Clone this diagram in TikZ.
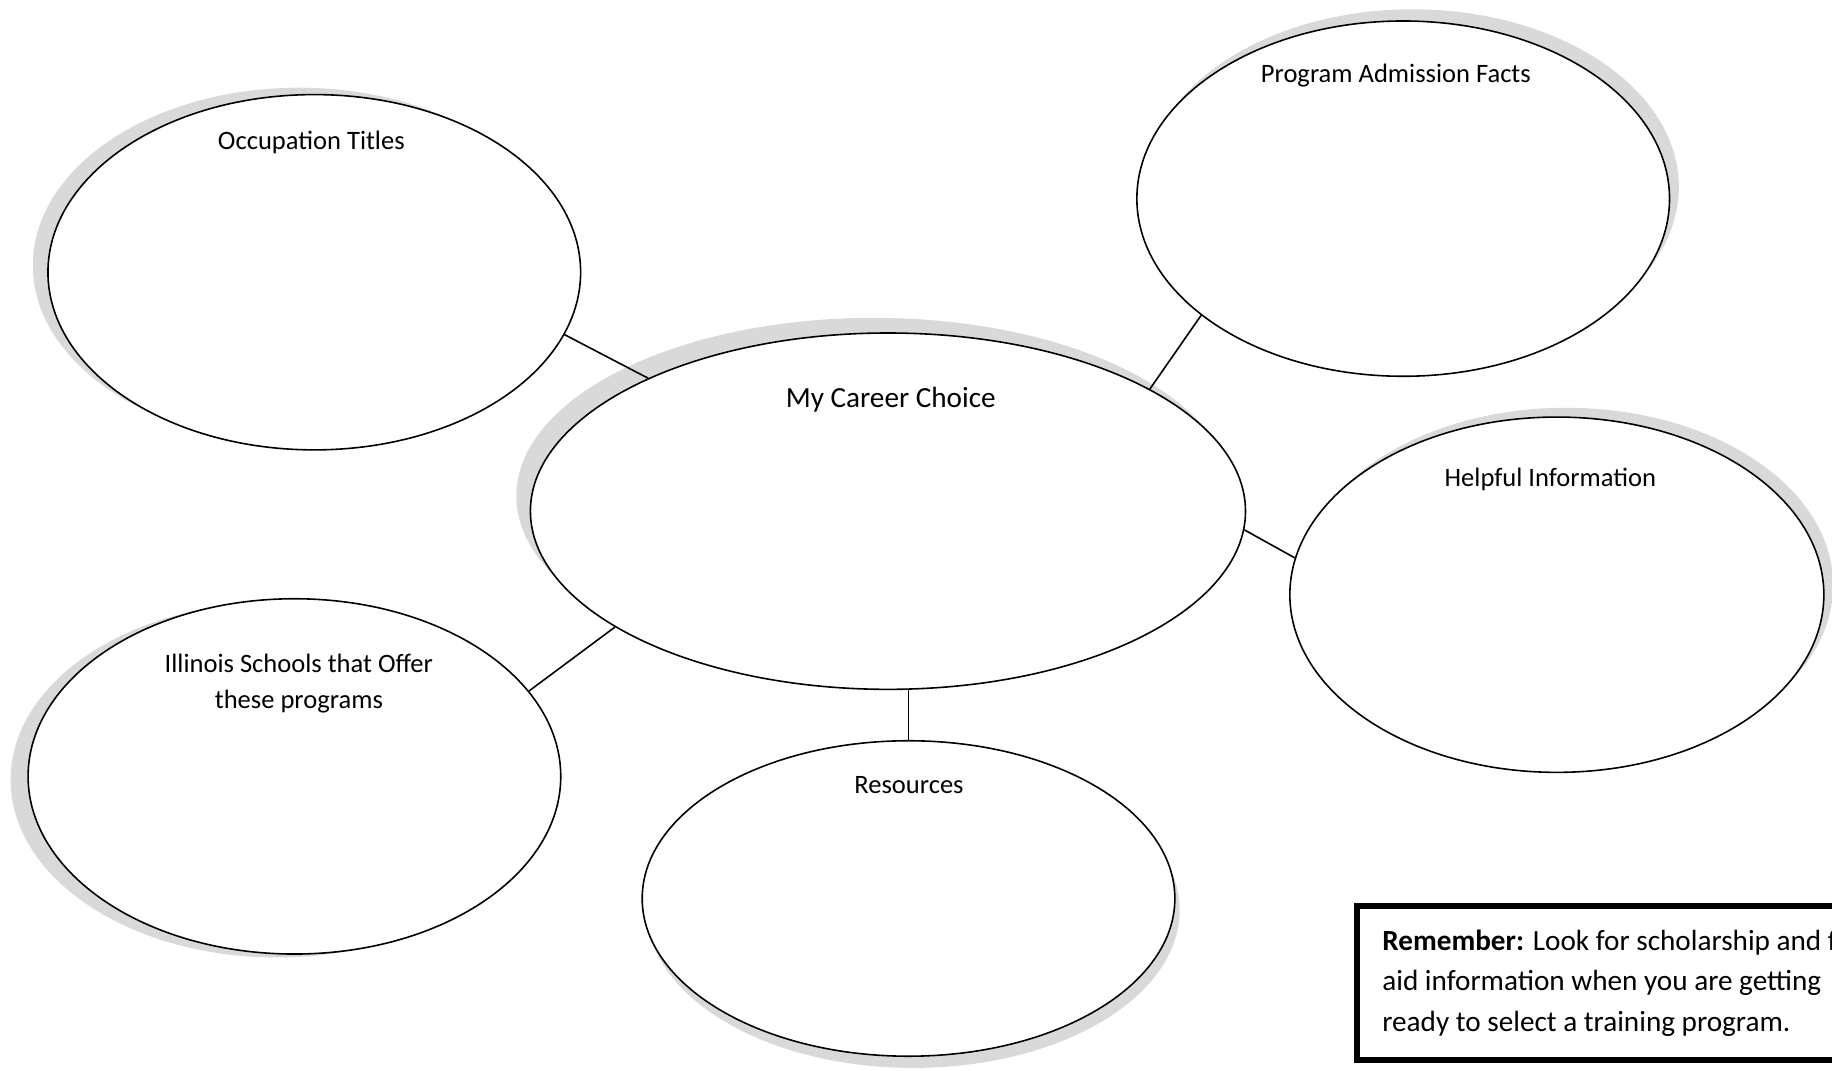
\documentclass[tikz,border=0pt]{standalone}
\usepackage{fontspec}
\setmainfont{Carlito}
\usetikzlibrary{shapes.geometric,shadows}
\tikzset{
  bubble/.style={ellipse,draw,fill=white,line width=0.6pt,inner sep=0pt},
  bshadow/.style 2 args={drop shadow={shadow xshift=#1,shadow yshift=#2,fill=black!15,opacity=1}},
  lbl/.style={font=\fontsize{10}{13.2}\selectfont,anchor=base,inner sep=0pt,align=flush center},
  link/.style={line width=0.6pt},
  notebox/.style={draw,line width=2.25pt,anchor=north west,align=flush left,
    text width=190pt,inner xsep=9.5pt,minimum height=58pt,
    font=\fontsize{11}{15.2}\selectfont},
}
\begin{document}
\begin{tikzpicture}[x=0.44pt,y=-0.44pt]
  \useasboundingbox (0,0) rectangle (1568,916);
  \clip (0,0) rectangle (1568,916);
  %% Outer bubbles
  \node[bubble,bshadow={-5.7pt}{2.6pt},minimum width=200.6pt,minimum height=133.8pt] (occ) at (269,233) {};
  \node[bubble,bshadow={3.5pt}{4.4pt},minimum width=200.6pt,minimum height=133.8pt] (prog) at (1201,170) {};
  \node[bubble,bshadow={3.5pt}{3.5pt},minimum width=201.1pt,minimum height=133.8pt] (help) at (1332.5,509) {};
  \node[bubble,bshadow={-6.6pt}{-1.3pt},minimum width=200.6pt,minimum height=133.8pt] (ill) at (252,664.5) {};
  \node[bubble,bshadow={1.8pt}{-4.4pt},minimum width=200.6pt,minimum height=118.8pt] (res) at (777.6,769) {};
  %% Centre bubble
  \node[bubble,bshadow={-5.3pt}{5.7pt},minimum width=269.3pt,minimum height=134.2pt] (career) at (760,437.5) {};
  %% Links
  \draw[link] (occ.-14) -- (career.151.6);
  \draw[link] (career.25) -- (prog.210);
  \draw[link] (career.-3.8) -- (help.172);
  \draw[link] (career.203.8) -- (ill.20.3);
  \draw[link] (res.north) -- (res.north |- career.south);
  %% Labels
  \node[lbl] (occlbl) at (266.5,128) {Occupation Titles};
  \node[lbl] (proglbl) at (1194.7,71) {Program Admission Facts};
  \node[lbl] (helplbl) at (1327,416) {Helpful Information};
  \node[lbl,font=\fontsize{11}{13.2}\selectfont] (careerlbl) at (762.4,349) {My Career Choice};
  \node[lbl] (illlbl) at (255.8,606) {Illinois Schools that Offer\\these programs};
  \node[lbl] (reslbl) at (778,679) {Resources};
  %% Reminder box
  \node[notebox] (note) at (1159,773) {\textbf{Remember:} Look for scholarship and f\\
    aid information when you are getting\\ready to select a training program.};
\end{tikzpicture}
\end{document}
